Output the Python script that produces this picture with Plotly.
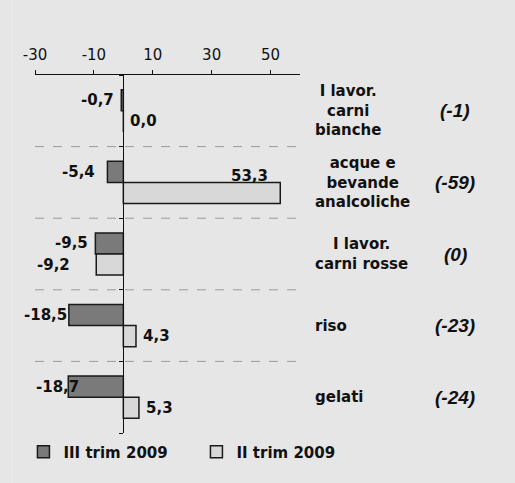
import plotly.graph_objects as go

categories = ["I lavor.<br>carni<br>bianche", "acque e<br>bevande<br>analcoliche",
              "I lavor.<br>carni rosse", "riso", "gelati"]
changes = ["(-1)", "(-59)", "(0)", "(-23)", "(-24)"]
series_names = ["III trim 2009", "II trim 2009"]
q3_2009 = [-0.7, -5.4, -9.5, -18.5, -18.7]
q2_2009 = [0.0, 53.3, -9.2, 4.3, 5.3]
x_ticks = [-30, -10, 10, 30, 50]
x_tick_text = ["-30", "-10", "10", "30", "50"]

# pixel gap between bar end and its value label (as placed in the original)
label_gap_q3 = [5, 10, 5, 0, -13]
label_gap_q2 = [5, 0, 24, 5, 5]

BG = "#e6e6e6"
FONT = "DejaVu Sans"
pos = list(range(len(categories)))

fig = go.Figure()
fig.add_trace(go.Bar(y=pos, x=q3_2009, orientation="h", name=series_names[0],
                     marker=dict(color="#7a7a7a", line=dict(color="#1a1a1a", width=1.5))))
fig.add_trace(go.Bar(y=pos, x=q2_2009, orientation="h", name=series_names[1],
                     marker=dict(color="#d8d8d8", line=dict(color="#1a1a1a", width=1.5))))

bargap = 0.41
half = (1 - bargap) / 4  # offset of each bar centre from category centre

def fmt(v):
    return f"{v:.1f}".replace(".", ",")

ann = []
lab_font = dict(family=FONT, size=15, color="#111", weight="bold")
for i, v in enumerate(q3_2009):
    g = label_gap_q3[i]
    ann.append(dict(x=v, y=i - half, xref="x", yref="y", text=fmt(v), showarrow=False,
                    xanchor="right" if v < 0 else "left", xshift=-g if v < 0 else g,
                    font=lab_font))
for i, v in enumerate(q2_2009):
    g = label_gap_q2[i]
    if v > 45:
        ann.append(dict(x=v, y=i - half, xref="x", yref="y", text=fmt(v), showarrow=False,
                        xanchor="right", xshift=-10, yshift=-4, font=lab_font))
    else:
        ann.append(dict(x=v, y=i + half, xref="x", yref="y", text=fmt(v), showarrow=False,
                        xanchor="right" if v < 0 else "left", xshift=-g if v < 0 else g,
                        font=lab_font))
for i, c in enumerate(categories):
    ann.append(dict(x=1.049, y=i, xref="paper", yref="y", text=c, showarrow=False,
                    xanchor="left", align="center",
                    font=dict(family=FONT, size=15, color="#111", weight="bold")))
for i, c in enumerate(changes):
    ann.append(dict(x=1.585, y=i, xref="paper", yref="y", text=c, showarrow=False,
                    xanchor="center",
                    font=dict(family="Liberation Sans", size=19, color="#111",
                              weight="bold", style="italic")))

shapes = []
for k in range(len(categories) - 1):
    shapes.append(dict(type="line", xref="x", yref="y", x0=-30, x1=60, y0=k + 0.5, y1=k + 0.5,
                       line=dict(color="#9a9a9a", width=1, dash="dash"), layer="below"))
shapes.append(dict(type="line", xref="paper", yref="paper", x0=-0.087, x1=-0.087, y0=-0.2, y1=1.25,
                   line=dict(color="#ececec", width=1)))

fig.update_layout(
    width=515, height=483,
    margin=dict(l=35, r=215, t=75, b=50, autoexpand=False),
    paper_bgcolor=BG, plot_bgcolor=BG,
    barmode="group", bargap=bargap, bargroupgap=0,
    showlegend=True,
    legend=dict(orientation="h", x=1.262, xanchor="right", y=-0.053, yanchor="middle",
                bgcolor="rgba(0,0,0,0)", font=dict(family=FONT, size=15, color="#111", weight="bold"),
                traceorder="normal", entrywidth=128, entrywidthmode="pixels"),
    xaxis=dict(side="top", range=[-30, 60], tickvals=x_ticks, ticktext=x_tick_text,
               ticks="outside", ticklen=4,
               tickcolor="#111", showline=True, linecolor="#111", linewidth=1,
               showgrid=False, zeroline=False, ticklabelstandoff=4,
               tickfont=dict(family=FONT, size=15, color="#111")),
    yaxis=dict(range=[len(categories) - 0.5, -0.5], showgrid=False, zeroline=False,
               anchor="free", position=1/3, showline=True, linecolor="#111", linewidth=1,
               ticks="outside", ticklen=4, tickcolor="#111",
               tickvals=[k - 0.5 for k in range(len(categories) + 1)], showticklabels=False),
    annotations=ann, shapes=shapes,
)

fig.write_html("out.html", config={"displayModeBar": False},
               post_script="document.body.style.margin='0';")
